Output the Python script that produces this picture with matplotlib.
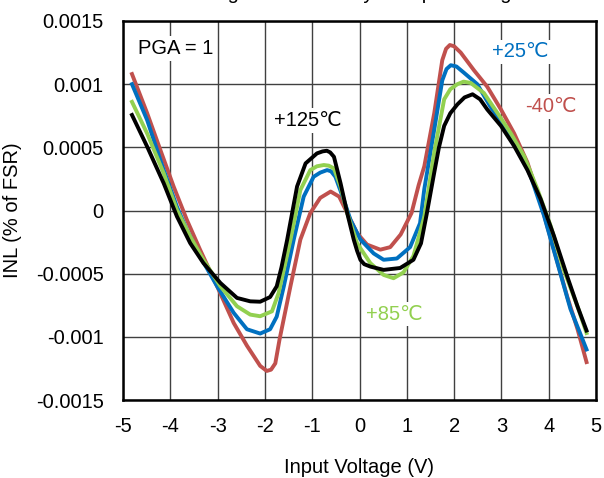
import matplotlib
matplotlib.use('Agg')
import matplotlib.pyplot as plt

plt.rcParams['font.family'] = ['Liberation Sans', 'DejaVu Sans']

# INL readings (% of FSR) against input voltage, one list pair per temperature
v_125 = [-4.81, -4.49, -4.14, -3.86, -3.58, -3.30, -2.94, -2.59, -2.31, -2.10, -1.89, -1.75,
         -1.65, -1.53, -1.32, -1.14, -0.90, -0.78, -0.69, -0.62, -0.54, -0.40, -0.26, -0.12,
         -0.05, 0.02, 0.10, 0.23, 0.51, 0.86, 1.14, 1.30, 1.42, 1.58, 1.68, 1.79, 1.92,
         2.07, 2.22, 2.39, 2.55, 2.70, 2.99, 3.27, 3.55, 3.83, 4.11, 4.39, 4.61, 4.80]
inl_125 = [0.000756, 0.000506, 0.000216, -0.000047, -0.000258, -0.000416, -0.000574,
           -0.000692, -0.000719, -0.000722, -0.000685, -0.000600, -0.000450, -0.000233,
           0.000190, 0.000373, 0.000452, 0.000468, 0.000473, 0.000460, 0.000425, 0.000215,
           -0.000020, -0.000233, -0.000320, -0.000391, -0.000425, -0.000444, -0.000470,
           -0.000455, -0.000390, -0.000260, -0.000030, 0.000300, 0.000500, 0.000670,
           0.000770, 0.000840, 0.000895, 0.000920, 0.000880, 0.000800, 0.000670,
           0.000510, 0.000320, 0.000090, -0.000200, -0.000520, -0.000760, -0.000950]

v_85 = [-4.81, -4.49, -4.14, -3.86, -3.58, -3.30, -2.94, -2.59, -2.31, -2.10, -1.85, -1.71,
        -1.46, -1.25, -1.04, -0.90, -0.755, -0.65, -0.54, -0.40, -0.26, -0.05, 0.23, 0.51,
        0.72, 0.93, 1.14, 1.37, 1.58, 1.79, 1.92, 2.07, 2.20, 2.35, 2.63, 2.92, 3.20,
        3.48, 3.76, 4.04, 4.32, 4.61, 4.80]
inl_85 = [0.000860, 0.000610, 0.000295, 0.000005, -0.000205, -0.000390, -0.000600,
          -0.000758, -0.000824, -0.000837, -0.000798, -0.000653, -0.000233, 0.000162,
          0.000320, 0.000350, 0.000360, 0.000355, 0.000333, 0.000188, -0.000020,
          -0.000260, -0.000417, -0.000510, -0.000536, -0.000490, -0.000360, -0.000050,
          0.000460, 0.000880, 0.000960, 0.001000, 0.001020, 0.001010, 0.000930,
          0.000770, 0.000610, 0.000430, 0.000170, -0.000120, -0.000470, -0.000760,
          -0.000970]

v_25 = [-4.81, -4.49, -4.14, -3.86, -3.65, -3.37, -3.01, -2.66, -2.38, -2.10, -1.89, -1.75,
        -1.60, -1.39, -1.18, -0.97, -0.83, -0.685, -0.60, -0.51, -0.33, -0.19, 0.02, 0.30,
        0.51, 0.79, 1.07, 1.28, 1.37, 1.58, 1.75, 1.84, 1.93, 2.05, 2.21, 2.49, 2.77,
        3.06, 3.34, 3.62, 3.90, 4.18, 4.46, 4.80]
inl_25 = [0.001000, 0.000716, 0.000321, 0.000030, -0.000153, -0.000363, -0.000600,
          -0.000810, -0.000940, -0.000974, -0.000940, -0.000840, -0.000600, -0.000230,
          0.000110, 0.000267, 0.000300, 0.000320, 0.000310, 0.000267, 0.000083,
          -0.000075, -0.000230, -0.000340, -0.000390, -0.000380, -0.000290, -0.000100,
          0.000170, 0.000640, 0.001030, 0.001120, 0.001150, 0.001140, 0.001090,
          0.001000, 0.000820, 0.000670, 0.000510, 0.000270, -0.000040, -0.000410,
          -0.000780, -0.001100]

v_m40 = [-4.81, -4.49, -4.21, -3.93, -3.65, -3.37, -3.01, -2.66, -2.38, -2.10, -1.96, -1.87,
         -1.78, -1.69, -1.46, -1.25, -1.04, -0.83, -0.61, -0.43, -0.26, -0.05, 0.16, 0.44,
         0.65, 0.87, 1.10, 1.25, 1.37, 1.58, 1.75, 1.83, 1.91, 2.00, 2.14, 2.42, 2.70,
         2.99, 3.27, 3.55, 3.83, 4.11, 4.39, 4.61, 4.80]
inl_m40 = [0.001080, 0.000771, 0.000479, 0.000190, -0.000074, -0.000311, -0.000600,
           -0.000890, -0.001070, -0.001230, -0.001270, -0.001260, -0.001210, -0.001020,
           -0.000600, -0.000230, -0.000020, 0.000100, 0.000150, 0.000110, -0.000020,
           -0.000180, -0.000270, -0.000310, -0.000290, -0.000190, -0.000020, 0.000200,
           0.000350, 0.000770, 0.001190, 0.001280, 0.001310, 0.001300, 0.001250,
           0.001110, 0.000980, 0.000800, 0.000610, 0.000380, 0.000060, -0.000310,
           -0.000680, -0.000940, -0.001200]

x_ticks = [-5, -4, -3, -2, -1, 0, 1, 2, 3, 4, 5]
y_ticks = [-0.0015, -0.001, -0.0005, 0, 0.0005, 0.001, 0.0015]
y_tick_labels = ['-0.0015', '-0.001', '-0.0005', '0', '0.0005', '0.001', '0.0015']

RED = '#C0504D'
BLUE = '#0070C0'
GREEN = '#92D050'

fig = plt.figure(figsize=(6.04, 4.78), dpi=100)
ax = fig.add_axes([123 / 604, 1 - 400 / 478, 473 / 604, 379 / 478])

lw = 2.8
ax.plot(v_m40, inl_m40, color=RED, lw=lw, solid_joinstyle='round', zorder=3)
ax.plot(v_25, inl_25, color=BLUE, lw=lw, solid_joinstyle='round', zorder=4)
ax.plot(v_85, inl_85, color=GREEN, lw=lw, solid_joinstyle='round', zorder=5)
ax.plot(v_125, inl_125, color='black', lw=lw, solid_joinstyle='round', zorder=6)

ax.set_xlim(-5, 5)
ax.set_ylim(-0.0015, 0.0015)
ax.set_xticks(x_ticks)
ax.set_xticklabels([str(t) for t in x_ticks])
ax.set_yticks(y_ticks)
ax.set_yticklabels(y_tick_labels)
ax.tick_params(length=0, labelsize=14.5)
ax.tick_params(axis='x', pad=12)
ax.tick_params(axis='y', pad=14)
ax.grid(True, color='#404040', lw=1.0)
ax.set_axisbelow(True)
for s in ax.spines.values():
    s.set_linewidth(1.8)
    s.set_color('black')
    s.set_zorder(10)

ax.set_xlabel('Input Voltage (V)', fontsize=14.5, labelpad=16)
ax.set_ylabel('INL (% of FSR)', fontsize=14.5, labelpad=10)

box = dict(facecolor='white', edgecolor='none', pad=2)
ax.text(-4.68, 0.00128, 'PGA = 1', fontsize=14.5, ha='left', va='center', bbox=box, zorder=2)
ax.text(-1.09, 0.000714, '+125\u2103', fontsize=14.5, ha='center', va='center', color='black', bbox=box, zorder=2)
ax.text(3.39, 0.001256, '+25\u2103', fontsize=14.5, ha='center', va='center', color=BLUE, bbox=box, zorder=2)
ax.text(4.05, 0.000825, '-40\u2103', fontsize=14.5, ha='center', va='center', color=RED, bbox=box, zorder=2)
ax.text(0.74, -0.00082, '+85\u2103', fontsize=14.5, ha='center', va='center', color=GREEN, bbox=box, zorder=2)

# title is cropped off at the top of the image, only descenders show
fig.text(358 / 604, 1 + 1 / 478, 'Integral Nonlinearity vs Input Voltage', fontsize=14.5,
         ha='center', va='baseline')

fig.savefig('out.png', dpi=100)
